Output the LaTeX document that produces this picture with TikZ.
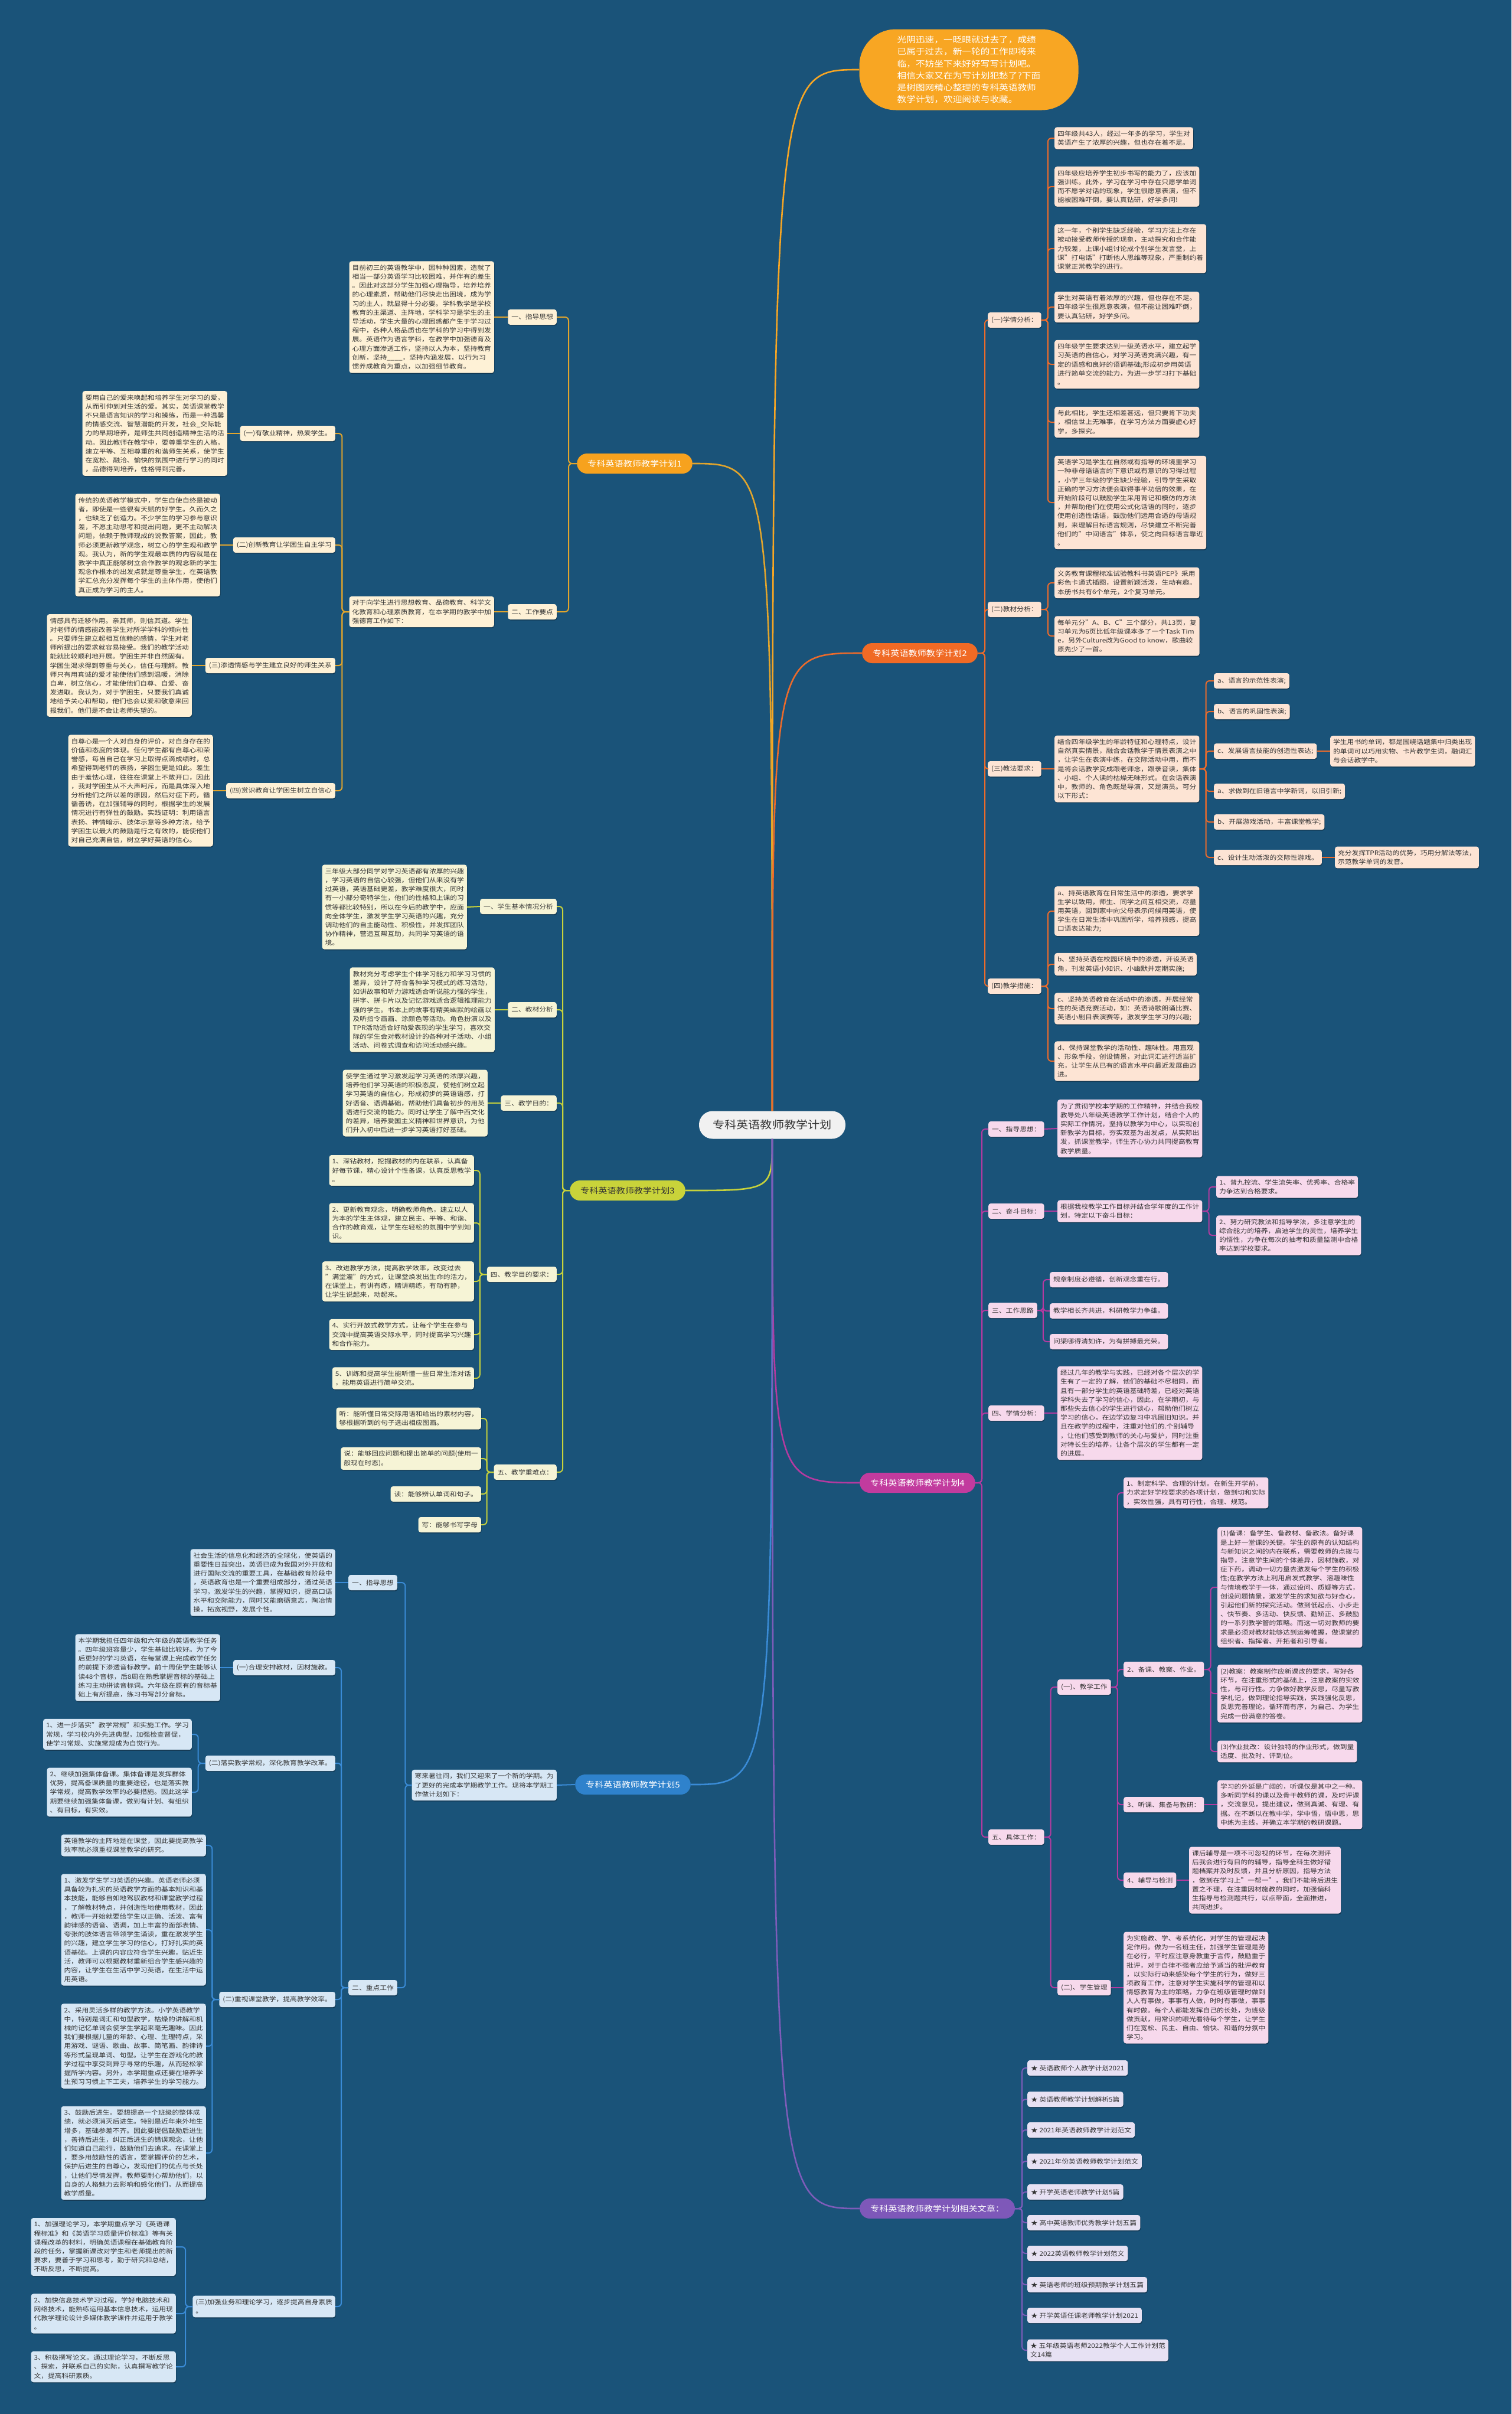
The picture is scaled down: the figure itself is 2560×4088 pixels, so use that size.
\documentclass[tikz,border=0pt]{standalone}
\usepackage{fontspec}
\setmainfont{Noto Sans CJK SC}[FakeStretch=1.12]
\usepackage{xcolor}
\usetikzlibrary{shadows}

\definecolor{bgblue}{HTML}{1A5379}
\definecolor{ink}{HTML}{333333}
\definecolor{titlegray}{HTML}{F1F1F1}
\definecolor{bubble}{HTML}{F8A623}
\definecolor{org1}{HTML}{F7A21E}
\definecolor{line1}{HTML}{E2A52C}
\definecolor{fill1}{HTML}{FEF1D6}
\definecolor{org2}{HTML}{F06A25}
\definecolor{line2}{HTML}{EC6B2B}
\definecolor{fill2}{HTML}{FDE4D4}
\definecolor{org3}{HTML}{C9D33A}
\definecolor{line3}{HTML}{C7D23B}
\definecolor{fill3}{HTML}{F6F4D6}
\definecolor{org4}{HTML}{C23B9E}
\definecolor{line4}{HTML}{B43AA0}
\definecolor{fill4}{HTML}{F7D9EC}
\definecolor{org5}{HTML}{2F82CC}
\definecolor{line5}{HTML}{3A8BD6}
\definecolor{fill5}{HTML}{D7E7F5}
\definecolor{org6}{HTML}{7E58B9}
\definecolor{line6}{HTML}{7D5CB9}
\definecolor{fill6}{HTML}{E7E1F3}

\begin{document}
\begin{tikzpicture}[x=1pt,y=-1pt,
  tbox/.style={rounded corners=4pt, inner xsep=5pt, inner ysep=6pt, align=left, text=ink,
    font=\fontsize{10.5}{15.2}\selectfont,
    drop shadow={shadow xshift=0.8pt,shadow yshift=-1.6pt,opacity=0.3,fill=black}},
  tagbox/.style={tbox, minimum height=26pt, inner xsep=6pt},
  pillbox/.style={rounded corners=17pt, minimum height=34pt, inner xsep=18pt,
    font=\fontsize{13.5}{16}\selectfont, text=white},
  link/.style={line width=2pt, rounded corners=6pt},
  mainlink/.style={line width=2.6pt}]

  \fill[bgblue] (0,0) rectangle (2560,4088);
  \useasboundingbox (0,0) rectangle (2560,4088);

  % centre and intro
  \node[fill=titlegray, text=ink, rounded corners=23pt, minimum width=248pt, minimum height=47pt,
    font=\fontsize{18}{22}\selectfont] (cen) at (1308,1905) {专科英语教师教学计划};
  \node[fill=bubble, text=white, rounded corners=62pt, minimum width=371pt, minimum height=137pt,
    align=left, font=\fontsize{14}{20.2}\selectfont] (intro) at (1641,118)
    {光阴迅速，一眨眼就过去了，成绩\\已属于过去，新一轮的工作即将来\\临，不妨坐下来好好写写计划吧。\\相信大家又在为写计划犯愁了?下面\\是树图网精心整理的专科英语教师\\教学计划，欢迎阅读与收藏。};

  % plan 1
  \node[pillbox, fill=org1, anchor=east] (p1) at (1173,785) {专科英语教师教学计划1};
  \node[tagbox, fill=fill1, anchor=east] (c11) at (943,537) {一、指导思想};
  \node[tbox, fill=fill1, anchor=east] (t11) at (837,537)
    {目前初三的英语教学中，因种种因素，造就了\\相当一部分英语学习比较困难，并伴有的差生\\。因此对这部分学生加强心理指导，培养培养\\的心理素质，帮助他们尽快走出困境，成为学\\习的主人，就显得十分必要。学科教学是学校\\教育的主渠道、主阵地，学科学习是学生的主\\导活动，学生大量的心理困惑都产生于学习过\\程中，各种人格品质也在学科的学习中得到发\\展。英语作为语言学科，在教学中加强德育及\\心理方面渗透工作，坚持以人为本，坚持教育\\创新，坚持\_\_\_\_，坚持内涵发展，以行为习\\惯养成教育为重点，以加强细节教育。};
  \node[tagbox, fill=fill1, anchor=east] (c12) at (943,1036) {二、工作要点};
  \node[tbox, fill=fill1, anchor=east] (t12) at (837,1036)
    {对于向学生进行思想教育、品德教育、科学文\\化教育和心理素质教育，在本学期的教学中加\\强德育工作如下：};
  \node[tagbox, fill=fill1, anchor=east] (d1) at (568,734) {(一)有敬业精神，热爱学生。};
  \node[tbox, fill=fill1, anchor=east] (e1) at (385,734)
    {要用自己的爱来唤起和培养学生对学习的爱，\\从而引伸到对生活的爱。其实，英语课堂教学\\不只是语言知识的学习和操练，而是一种温馨\\的情感交流、智慧潜能的开发，社会\_交际能\\力的早期培养，是师生共同创造精神生活的活\\动。因此教师在教学中，要尊重学生的人格，\\建立平等、互相尊重的和谐师生关系，使学生\\在宽松、融洽、愉快的氛围中进行学习的同时\\，品德得到培养，性格得到完善。};
  \node[tagbox, fill=fill1, anchor=east] (d2) at (568,923) {(二)创新教育让学困生自主学习};
  \node[tbox, fill=fill1, anchor=east] (e2) at (373,923)
    {传统的英语教学模式中，学生自使自终是被动\\者，即使是一些很有天赋的好学生。久而久之\\，也缺乏了创造力。不少学生的学习参与意识\\差，不愿主动思考和提出问题，更不主动解决\\问题，依赖于教师现成的说教答案，因此，教\\师必须更新教学观念，树立心的学生观和教学\\观。我认为，新的学生观最本质的内容就是在\\教学中真正能够树立合作教学的观念新的学生\\观念作根本的出发点就是尊重学生，在英语教\\学汇总充分发挥每个学生的主体作用，使他们\\真正成为学习的主人。};
  \node[tagbox, fill=fill1, anchor=east] (d3) at (568,1127) {(三)渗透情感与学生建立良好的师生关系};
  \node[tbox, fill=fill1, anchor=east] (e3) at (325,1127)
    {情感具有迁移作用。亲其师，则信其道。学生\\对老师的情感能改善学生对所学学科的倾向性\\。只要师生建立起相互信赖的感情，学生对老\\师所提出的要求就容易接受。我们的教学活动\\能就比较顺利地开展。学困生并非自然固有。\\学困生渴求得到尊重与关心，信任与理解。教\\师只有用真诚的爱才能使他们感到温暖，消除\\自卑，树立信心，才能使他们自尊、自爱、奋\\发进取。我认为，对于学困生，只要我们真诚\\地给予关心和帮助，他们也会以爱和敬意来回\\报我们。他们是不会让老师失望的。};
  \node[tagbox, fill=fill1, anchor=east] (d4) at (568,1339) {(四)赏识教育让学困生树立自信心};
  \node[tbox, fill=fill1, anchor=east] (e4) at (361,1339)
    {自尊心是一个人对自身的评价，对自身存在的\\价值和态度的体现。任何学生都有自尊心和荣\\誉感，每当自己在学习上取得点滴成绩时，总\\希望得到老师的表扬，学困生更是如此。差生\\由于羞怯心理，往往在课堂上不敢开口，因此\\，我对学困生从不大声呵斥，而是具体深入地\\分析他们之所以差的原因，然后对症下药，循\\循善诱，在加强辅导的同时，根据学生的发展\\情况进行有弹性的鼓励。实践证明：利用语言\\表扬、神情暗示、肢体示意等多种方法，给予\\学困生以最大的鼓励是行之有效的，能使他们\\对自己充满自信，树立学好英语的信心。};

  % plan 2
  \node[pillbox, fill=org2, anchor=west] (p2) at (1460,1106) {专科英语教师教学计划2};
  \node[tagbox, fill=fill2, anchor=west] (q1) at (1673,542) {(一)学情分析：};
  \node[tagbox, fill=fill2, anchor=west] (q2) at (1673,1032) {(二)教材分析：};
  \node[tagbox, fill=fill2, anchor=west] (q3) at (1673,1302) {(三)教法要求：};
  \node[tagbox, fill=fill2, anchor=west] (q4) at (1673,1670) {(四)教学措施：};
  \node[tbox, fill=fill2, anchor=west] (r1) at (1786,234)
    {四年级共43人，经过一年多的学习，学生对\\英语产生了浓厚的兴趣，但也存在着不足。};
  \node[tbox, fill=fill2, anchor=west] (r2) at (1786,316)
    {四年级应培养学生初步书写的能力了，应该加\\强训练。此外，学习在学习中存在只愿学单词\\而不愿学对话的现象，学生很愿意表演，但不\\能被困难吓倒，要认真钻研，好学多问!};
  \node[tbox, fill=fill2, anchor=west] (r3) at (1786,421)
    {这一年，个别学生缺乏经验，学习方法上存在\\被动接受教师传授的现象，主动探究和合作能\\力较差，上课小组讨论成个别学生发言堂，上\\课"打电话"打断他人思维等现象，严重制约着\\课堂正常教学的进行。};
  \node[tbox, fill=fill2, anchor=west] (r4) at (1786,520)
    {学生对英语有着浓厚的兴趣，但也存在不足。\\四年级学生很愿意表演，但不能让困难吓倒，\\要认真钻研，好学多问。};
  \node[tbox, fill=fill2, anchor=west] (r5) at (1786,617)
    {四年级学生要求达到一级英语水平，建立起学\\习英语的自信心，对学习英语充满兴趣，有一\\定的语感和良好的语调基础;形成初步用英语\\进行简单交流的能力，为进一步学习打下基础\\。};
  \node[tbox, fill=fill2, anchor=west] (r6) at (1786,715)
    {与此相比，学生还相差甚远，但只要肯下功夫\\，相信世上无难事，在学习方法方面要虚心好\\学，多探究。};
  \node[tbox, fill=fill2, anchor=west] (r7) at (1786,851)
    {英语学习是学生在自然或有指导的环境里学习\\一种非母语语言的下意识或有意识的习得过程\\，小学三年级的学生缺少经验，引导学生采取\\正确的学习方法便会取得事半功倍的效果，在\\开始阶段可以鼓励学生采用背记和模仿的方法\\，并帮助他们在使用公式化话语的同时，逐步\\使用创造性话语，鼓励他们运用合适的母语规\\则，来理解目标语言规则，尽快建立不断完善\\他们的"中间语言"体系，使之向目标语言靠近\\。};
  \node[tbox, fill=fill2, anchor=west] (r8) at (1786,987)
    {义务教育课程标准试验教科书英语PEP》采用\\彩色卡通式插图，设置新颖活泼，生动有趣。\\本册书共有6个单元，2个复习单元。};
  \node[tbox, fill=fill2, anchor=west] (r9) at (1786,1077)
    {每单元分"A、B、C"三个部分，共13页，复\\习单元为6页比低年级课本多了一个Task Tim\\e，另外Culture改为Good to know，歌曲较\\原先少了一首。};
  \node[tbox, fill=fill2, anchor=west] (s1) at (1786,1302)
    {结合四年级学生的年龄特征和心理特点，设计\\自然真实情景，融合会话教学于情景表演之中\\，让学生在表演中练，在交际活动中用，而不\\是将会话教学变成跟老师念，跟录音读，集体\\、小组、个人读的枯燥无味形式。在会话表演\\中，教师的、角色既是导演，又是演员。可分\\以下形式：};
  \node[tagbox, fill=fill2, anchor=west] (u1) at (2056,1153) {a、语言的示范性表演;};
  \node[tagbox, fill=fill2, anchor=west] (u2) at (2056,1205) {b、语言的巩固性表演;};
  \node[tagbox, fill=fill2, anchor=west] (u3) at (2056,1272) {c、发展语言技能的创造性表达;};
  \node[tagbox, fill=fill2, anchor=west] (u4) at (2056,1340) {a、求做到在旧语言中学新词，以旧引新;};
  \node[tagbox, fill=fill2, anchor=west] (u5) at (2056,1392) {b、开展游戏活动，丰富课堂教学;};
  \node[tagbox, fill=fill2, anchor=west] (u6) at (2056,1452) {c、设计生动活泼的交际性游戏。};
  \node[tbox, fill=fill2, anchor=west] (v1) at (2253,1272)
    {学生用书的单词，都是围绕话题集中归类出现\\的单词可以巧用实物、卡片教学生词，融词汇\\与会话教学中。};
  \node[tbox, fill=fill2, anchor=west] (v2) at (2261,1452)
    {充分发挥TPR活动的优势，巧用分解法等法，\\示范教学单词的发音。};
  \node[tbox, fill=fill2, anchor=west] (w1) at (1786,1543)
    {a、持英语教育在日常生活中的渗透，要求学\\生学以致用，师生、同学之间互相交流，尽量\\用英语，回到家中向父母表示问候用英语，使\\学生在日常生活中巩固所学，培养预感，提高\\口语表达能力;};
  \node[tbox, fill=fill2, anchor=west] (w2) at (1786,1633)
    {b、坚持英语在校园环境中的渗透，开设英语\\角，刊发英语小知识、小幽默并定期实施;};
  \node[tbox, fill=fill2, anchor=west] (w3) at (1786,1708)
    {c、坚持英语教育在活动中的渗透，开展经常\\性的英语竞赛活动，如：英语诗歌朗诵比赛、\\英语小剧目表演赛等，激发学生学习的兴趣;};
  \node[tbox, fill=fill2, anchor=west] (w4) at (1786,1797)
    {d、保持课堂教学的活动性、趣味性。用直观\\、形象手段，创设情景，对此词汇进行适当扩\\充，让学生从已有的语言水平向最近发展曲迈\\进。};

  % plan 3
  \node[pillbox, fill=org3, text=ink, anchor=east] (p3) at (1161,2016) {专科英语教师教学计划3};
  \node[tagbox, fill=fill3, anchor=east] (k1) at (943,1535) {一、学生基本情况分析};
  \node[tbox, fill=fill3, anchor=east] (kt1) at (791,1536)
    {三年级大部分同学对学习英语都有浓厚的兴趣\\，学习英语的自信心较强，但他们从来没有学\\过英语，英语基础更差，教学难度很大，同时\\有一小部分奇特学生，他们的性格和上课的习\\惯等都比较特别，所以在今后的教学中，应面\\向全体学生，激发学生学习英语的兴趣，充分\\调动他们的自主能动性、积极性，并发挥团队\\协作精神，营造互帮互助，共同学习英语的语\\境。};
  \node[tagbox, fill=fill3, anchor=east] (k2) at (943,1710) {二、教材分析};
  \node[tbox, fill=fill3, anchor=east] (kt2) at (838,1710)
    {教材充分考虑学生个体学习能力和学习习惯的\\差异，设计了符合各种学习模式的练习活动，\\如讲故事和听力游戏适合听说能力强的学生，\\拼字、拼卡片以及记忆游戏适合逻辑推理能力\\强的学生。书本上的故事有精美幽默的绘画以\\及听指令画画、涂颜色等活动。角色扮演以及\\TPR活动适合好动爱表现的学生学习，喜欢交\\际的学生会对教材设计的各种对子活动、小组\\活动、问卷式调查和访问活动感兴趣。};
  \node[tagbox, fill=fill3, anchor=east] (k3) at (943,1868) {三、教学目的：};
  \node[tbox, fill=fill3, anchor=east] (kt3) at (826,1868)
    {使学生通过学习激发起学习英语的浓厚兴趣，\\培养他们学习英语的积极态度，使他们树立起\\学习英语的自信心，形成初步的英语语感，打\\好语音、语调基础，帮助他们具备初步的用英\\语进行交流的能力。同时让学生了解中西文化\\的差异，培养爱国主义精神和世界意识，为他\\们升入初中后进一步学习英语打好基础。};
  \node[tagbox, fill=fill3, anchor=east] (k4) at (943,2158) {四、教学目的要求：};
  \node[tbox, fill=fill3, anchor=east] (m1) at (803,1982)
    {1、深钻教材，挖掘教材的内在联系，认真备\\好每节课，精心设计个性备课，认真反思教学\\。};
  \node[tbox, fill=fill3, anchor=east] (m2) at (803,2071)
    {2、更新教育观念，明确教师角色，建立以人\\为本的学生主体观，建立民主、平等、和谐、\\合作的教育观，让学生在轻松的氛围中学到知\\识。};
  \node[tbox, fill=fill3, anchor=east] (m3) at (803,2170)
    {3、改进教学方法，提高教学效率，改变过去\\"满堂灌"的方式，让课堂焕发出生命的活力，\\在课堂上，有讲有练，精讲精练，有动有静，\\让学生说起来，动起来。};
  \node[tbox, fill=fill3, anchor=east] (m4) at (803,2260)
    {4、实行开放式教学方式，让每个学生在参与\\交流中提高英语交际水平，同时提高学习兴趣\\和合作能力。};
  \node[tbox, fill=fill3, anchor=east] (m5) at (803,2334)
    {5、训练和提高学生能听懂一些日常生活对话\\，能用英语进行简单交流。};
  \node[tagbox, fill=fill3, anchor=east] (k5) at (943,2493) {五、教学重难点：};
  \node[tbox, fill=fill3, anchor=east] (n1) at (815,2402)
    {听：能听懂日常交际用语和给出的素材内容，\\够根据听到的句子选出相应图画。};
  \node[tbox, fill=fill3, anchor=east] (n2) at (815,2470)
    {说：能够回应问题和提出简单的问题(使用一\\般现在时态)。};
  \node[tagbox, fill=fill3, anchor=east] (n3) at (815,2530) {读：能够辨认单词和句子。};
  \node[tagbox, fill=fill3, anchor=east] (n4) at (815,2582) {写：能够书写字母};

  % plan 4
  \node[pillbox, fill=org4, anchor=west] (p4) at (1456,2511) {专科英语教师教学计划4};
  \node[tagbox, fill=fill4, anchor=west] (g1) at (1674,1912) {一、指导思想：};
  \node[tbox, fill=fill4, anchor=west] (gt1) at (1791,1911)
    {为了贯彻学校本学期的工作精神，并结合我校\\教导处八年级英语教学工作计划，结合个人的\\实际工作情况，坚持以教学为中心，以实现创\\新教学为目标，夯实双基为出发点，从实际出\\发，抓课堂教学，师生齐心协力共同提高教育\\教学质量。};
  \node[tagbox, fill=fill4, anchor=west] (g2) at (1674,2051) {二、奋斗目标：};
  \node[tbox, fill=fill4, anchor=west] (gt2) at (1791,2051)
    {根据我校教学工作目标并结合学年度的工作计\\划，特定以下奋斗目标：};
  \node[tbox, fill=fill4, anchor=west] (gc1) at (2060,2010)
    {1、普九控流、学生流失率、优秀率、合格率\\力争达到合格要求。};
  \node[tbox, fill=fill4, anchor=west] (gc2) at (2060,2092)
    {2、努力研究教法和指导学法，多注意学生的\\综合能力的培养，启迪学生的灵性，培养学生\\的悟性，力争在每次的抽考和质量监测中合格\\率达到学校要求。};
  \node[tagbox, fill=fill4, anchor=west] (g3) at (1674,2219) {三、工作思路};
  \node[tagbox, fill=fill4, anchor=west] (gk1) at (1778,2167) {规章制度必遵循，创新观念重在行。};
  \node[tagbox, fill=fill4, anchor=west] (gk2) at (1778,2220) {教学相长齐共进，科研教学力争雄。};
  \node[tagbox, fill=fill4, anchor=west] (gk3) at (1778,2272) {问渠哪得清如许，为有拼搏最光荣。};
  \node[tagbox, fill=fill4, anchor=west] (g4) at (1674,2393) {四、学情分析：};
  \node[tbox, fill=fill4, anchor=west] (gt4) at (1791,2393)
    {经过几年的教学与实践，已经对各个层次的学\\生有了一定的了解，他们的基础不尽相同，而\\且有一部分学生的英语基础特差，已经对英语\\学科失去了学习的信心，因此，在学期初，与\\那些失去信心的学生进行谈心，帮助他们树立\\学习的信心，在边学边复习中巩固旧知识。并\\且在教学的过程中，注重对他们的.个别辅导\\，让他们感受到教师的关心与爱护，同时注重\\对特长生的培养，让各个层次的学生都有一定\\的进展。};
  \node[tagbox, fill=fill4, anchor=west] (g5) at (1674,3111) {五、具体工作：};
  \node[tagbox, fill=fill4, anchor=west] (h1) at (1791,2857) {(一)、教学工作};
  \node[tagbox, fill=fill4, anchor=west] (h2) at (1791,3366) {(二)、学生管理};
  \node[tbox, fill=fill4, anchor=west] (hh1) at (1903,2528)
    {1、制定科学、合理的计划。在新生开学前，\\力求定好学校要求的各项计划，做到切和实际\\，实效性强，具有可行性，合理、规范。};
  \node[tagbox, fill=fill4, anchor=west] (hh2) at (1903,2827) {2、备课、教案、作业。};
  \node[tagbox, fill=fill4, anchor=west] (hh3) at (1903,3056) {3、听课、集备与教研：};
  \node[tagbox, fill=fill4, anchor=west] (hh4) at (1903,3184) {4、辅导与检测};
  \node[tbox, fill=fill4, anchor=west] (hx1) at (2062,2688)
    {(1)备课：备学生、备教材、备教法。备好课\\是上好一堂课的关键。学生的原有的认知结构\\与新知识之间的内在联系，需要教师的点拨与\\指导，注意学生间的个体差异，因材施教，对\\症下药，调动一切力量去激发每个学生的积极\\性;在教学方法上利用启发式教学、溶趣味性\\与情境教学于一体，通过设问、质疑等方式，\\创设问题情景，激发学生的求知欲与好奇心，\\引起他们新的探究活动。做到低起点、小步走\\、快节奏、多活动、快反馈、勤矫正、多鼓励\\的一系列教学管的策略。而这一切对教师的要\\求是必须对教材能够达到运筹帷握，做课堂的\\组织者、指挥者、开拓者和引导者。};
  \node[tbox, fill=fill4, anchor=west] (hx2) at (2062,2868)
    {(2)教案：教案制作应新课改的要求，写好各\\环节，在注重形式的基础上，注意教案的实效\\性，与可行性。力争做好教学反思，尽量写教\\学札记，做到理论指导实践，实践强化反思，\\反思完善理论，循环而有序，为自己、为学生\\完成一份满意的答卷。};
  \node[tbox, fill=fill4, anchor=west] (hx3) at (2062,2966)
    {(3)作业批改：设计独特的作业形式，做到量\\适度、批及时、评到位。};
  \node[tbox, fill=fill4, anchor=west] (hy) at (2062,3056)
    {学习的外延是广阔的，听课仅是其中之一种。\\多听同学科的课以及骨干教师的课，及时评课\\，交流意见，提出建议，做到真诚、有理、有\\据。在不断以在教中学，学中悟，悟中思，思\\中练为主线，并确立本学期的教研课题。};
  \node[tbox, fill=fill4, anchor=west] (hz) at (2014,3184)
    {课后辅导是一项不可忽视的环节，在每次测评\\后我会进行有目的的辅导，指导全科生做好错\\题档案并及时反馈，并且分析原因，指导方法\\，做到在学习上"一帮一"，我们不能将后进生\\置之不理，在注重因材施教的同时，加强偏科\\生指导与检测题共行，以点带面，全面推进，\\共同进步。};
  \node[tbox, fill=fill4, anchor=west] (hm) at (1903,3366)
    {为实施教、学、考系统化，对学生的管理起决\\定作用。做为一名班主任，加强学生管理是势\\在必行，平时应注意身教重于言传，鼓励重于\\批评，对于自律不强者应给予适当的批评教育\\，以实际行动来感染每个学生的行为，做好三\\项教育工作，注意对学生实施科学的管理和以\\情感教育为主的策略，力争在班级管理时做到\\人人有事做，事事有人做，时时有事做，事事\\有时做。每个人都能发挥自己的长处，为班级\\做贡献，用常识的眼光看待每个学生，让学生\\们在宽松、民主、自由、愉快、和谐的分氛中\\学习。};

  % plan 5
  \node[pillbox, fill=org5, anchor=east] (p5) at (1170,3022) {专科英语教师教学计划5};
  \node[tbox, fill=fill5, anchor=east] (ptx) at (943,3023)
    {寒来暑往间，我们又迎来了一个新的学期。为\\了更好的完成本学期教学工作。现将本学期工\\作做计划如下：};
  \node[tagbox, fill=fill5, anchor=east] (f1) at (673,2680) {一、指导思想};
  \node[tbox, fill=fill5, anchor=east] (ft1) at (568,2680)
    {社会生活的信息化和经济的全球化，使英语的\\重要性日益突出，英语已成为我国对外开放和\\进行国际交流的重要工具，在基础教育阶段中\\，英语教育也是一个重要组成部分，通过英语\\学习，激发学生的兴趣，掌握知识，提高口语\\水平和交际能力，同时又能磨砺意志，陶冶情\\操，拓宽视野，发展个性。};
  \node[tagbox, fill=fill5, anchor=east] (f2) at (673,3366) {二、重点工作};
  \node[tagbox, fill=fill5, anchor=east] (fa) at (568,2824) {(一)合理安排教材，因材施教。};
  \node[tbox, fill=fill5, anchor=east] (fat) at (373,2824)
    {本学期我担任四年级和六年级的英语教学任务\\。四年级班容量少，学生基础比较好。为了今\\后更好的学习英语，在每堂课上完成教学任务\\的前提下渗透音标教学。前十周使学生能够认\\读48个音标，后8周在熟悉掌握音标的基础上\\练习主动拼读音标词。六年级在原有的音标基\\础上有所提高，练习书写部分音标。};
  \node[tagbox, fill=fill5, anchor=east] (fb) at (568,2986) {(二)落实教学常规，深化教育教学改革。};
  \node[tbox, fill=fill5, anchor=east] (fb1) at (325,2937)
    {1、进一步落实"教学常规"和实施工作。学习\\常规，学习校内外先进典型，加强检查督促，\\使学习常规、实施常规成为自觉行为。};
  \node[tbox, fill=fill5, anchor=east] (fb2) at (325,3035)
    {2、继续加强集体备课。集体备课是发挥群体\\优势，提高备课质量的重要途径，也是落实教\\学常规，提高教学效率的必要措施。因此这学\\期要继续加强集体备课，做到有计划、有组织\\、有目标，有实效。};
  \node[tagbox, fill=fill5, anchor=east] (fc) at (568,3386) {(二)重视课堂教学，提高教学效率。};
  \node[tbox, fill=fill5, anchor=east] (fc1) at (349,3125)
    {英语教学的主阵地是在课堂，因此要提高教学\\效率就必须重视课堂教学的研究。};
  \node[tbox, fill=fill5, anchor=east] (fc2) at (349,3268)
    {1、激发学生学习英语的兴趣。英语老师必须\\具备较为扎实的英语教学方面的基本知识和基\\本技能，能够自如地驾驭教材和课堂教学过程\\，了解教材特点，并创造性地使用教材，因此\\，教师一开始就要给学生以正确、活泼、富有\\韵律感的语音、语调，加上丰富的面部表情、\\夸张的肢体语言带领学生诵读，重在激发学生\\的兴趣，建立学生学习的信心，打好扎实的英\\语基础。上课的内容应符合学生兴趣，贴近生\\活，教师可以根据教材重新组合学生感兴趣的\\内容，让学生在生活中学习英语，在生活中运\\用英语。};
  \node[tbox, fill=fill5, anchor=east] (fc3) at (349,3465)
    {2、采用灵活多样的教学方法。小学英语教学\\中，特别是词汇和句型教学，枯燥的讲解和机\\械的记忆单词会使学生学起来毫无趣味。因此\\我们要根据儿童的年龄、心理、生理特点，采\\用游戏、谜语、歌曲、故事、简笔画、韵律诗\\等形式呈现单词、句型。让学生在游戏化的教\\学过程中享受到异乎寻常的乐趣，从而轻松掌\\握所学内容。另外，本学期重点还要在培养学\\生预习习惯上下工夫，培养学生的学习能力。};
  \node[tbox, fill=fill5, anchor=east] (fc4) at (349,3646)
    {3、鼓励后进生。要想提高一个班级的整体成\\绩，就必须消灭后进生。特别是近年来外地生\\增多，基础参差不齐。因此要提倡鼓励后进生\\，善待后进生，纠正后进生的错误观念，让他\\们知道自己能行，鼓励他们去追求。在课堂上\\，要多用鼓励性的语言，要掌握评价的艺术，\\保护后进生的自尊心，发现他们的优点与长处\\，让他们尽情发挥。教师要耐心帮助他们，以\\自身的人格魅力去影响和感化他们，从而提高\\教学质量。};
  \node[tbox, fill=fill5, anchor=east] (fd) at (568,3906)
    {(三)加强业务和理论学习，逐步提高自身素质\\。};
  \node[tbox, fill=fill5, anchor=east] (fd1) at (298,3805)
    {1、加强理论学习，本学期重点学习《英语课\\程标准》和《英语学习质量评价标准》等有关\\课程改革的材料，明确英语课程在基础教育阶\\段的任务，掌握新课改对学生和老师提出的新\\要求，要善于学习和思考，勤于研究和总结，\\不断反思，不断提高。};
  \node[tbox, fill=fill5, anchor=east] (fd2) at (298,3918)
    {2、加快信息技术学习过程，学好电脑技术和\\网络技术，能熟练运用基本信息技术，运用现\\代教学理论设计多媒体教学课件并运用于教学\\。};
  \node[tbox, fill=fill5, anchor=east] (fd3) at (298,4008)
    {3、积极撰写论文。通过理论学习，不断反思\\、探索，并联系自己的实际，认真撰写教学论\\文，提高科研素质。};

  % related articles
  \node[pillbox, fill=org6, anchor=west] (pr) at (1456,3740) {专科英语教师教学计划相关文章：};
  \node[tagbox, fill=fill6, anchor=west] (a1) at (1740,3502) {★ 英语教师个人教学计划2021};
  \node[tagbox, fill=fill6, anchor=west] (a2) at (1740,3555) {★ 英语教师教学计划解析5篇};
  \node[tagbox, fill=fill6, anchor=west] (a3) at (1740,3607) {★ 2021年英语教师教学计划范文};
  \node[tagbox, fill=fill6, anchor=west] (a4) at (1740,3660) {★ 2021年份英语教师教学计划范文};
  \node[tagbox, fill=fill6, anchor=west] (a5) at (1740,3712) {★ 开学英语老师教学计划5篇};
  \node[tagbox, fill=fill6, anchor=west] (a6) at (1740,3764) {★ 高中英语教师优秀教学计划五篇};
  \node[tagbox, fill=fill6, anchor=west] (a7) at (1740,3816) {★ 2022英语教师教学计划范文};
  \node[tagbox, fill=fill6, anchor=west] (a8) at (1740,3869) {★ 英语老师的班级预期教学计划五篇};
  \node[tagbox, fill=fill6, anchor=west] (a9) at (1740,3921) {★ 开学英语任课老师教学计划2021};
  \node[tbox, fill=fill6, anchor=west] (a10) at (1740,3980) {★ 五年级英语老师2022教学个人工作计划范\\文14篇};

  % centre connectors
  \draw[mainlink, bubble] (cen.north) .. controls (cen.north |- intro.west) .. (intro.west);
  \draw[mainlink, line1] (cen.north) .. controls (cen.north |- p1.east) .. (p1.east);
  \draw[mainlink, line2] (cen.north) .. controls (cen.north |- p2.west) .. (p2.west);
  \draw[mainlink, line3] (cen.south) .. controls (cen.south |- p3.east) .. (p3.east);
  \draw[mainlink, line4] (cen.south) .. controls (cen.south |- p4.west) .. (p4.west);
  \draw[mainlink, line5] (cen.south) .. controls (cen.south |- p5.east) .. (p5.east);
  \draw[mainlink, line6] (cen.south) .. controls (cen.south |- pr.west) .. (pr.west);

  % plan 1 links
  \foreach \c in {c11,c12} \draw[link, line1] (p1.west) -- ++(-14,0) |- (\c.east);
  \draw[link, line1] (c11.west) -- (t11.east);
  \draw[link, line1] (c12.west) -- (t12.east);
  \foreach \c in {d1,d2,d3,d4} \draw[link, line1] (t12.west) -- ++(-12,0) |- (\c.east);
  \foreach \a/\b in {d1/e1,d2/e2,d3/e3,d4/e4} \draw[link, line1] (\a.west) -- (\b.east);

  % plan 2 links
  \foreach \c in {q1,q2,q3,q4} \draw[link, line2] (p2.east) -- ++(12,0) |- (\c.west);
  \foreach \c in {r1,r2,r3,r4,r5,r6,r7} \draw[link, line2] (q1.east) -- ++(11,0) |- (\c.west);
  \foreach \c in {r8,r9} \draw[link, line2] (q2.east) -- ++(11,0) |- (\c.west);
  \draw[link, line2] (q3.east) -- (s1.west);
  \foreach \c in {u1,u2,u3,u4,u5,u6} \draw[link, line2] (s1.east) -- ++(11,0) |- (\c.west);
  \draw[link, line2] (u3.east) -- (v1.west);
  \draw[link, line2] (u6.east) -- (v2.west);
  \foreach \c in {w1,w2,w3,w4} \draw[link, line2] (q4.east) -- ++(11,0) |- (\c.west);

  % plan 3 links
  \foreach \c in {k1,k2,k3,k4,k5} \draw[link, line3] (p3.west) -- ++(-12,0) |- (\c.east);
  \foreach \a/\b in {k1/kt1,k2/kt2,k3/kt3} \draw[link, line3] (\a.west) -- (\b.east);
  \foreach \c in {m1,m2,m3,m4,m5} \draw[link, line3] (k4.west) -- ++(-12,0) |- (\c.east);
  \foreach \c in {n1,n2,n3,n4} \draw[link, line3] (k5.west) -- ++(-12,0) |- (\c.east);

  % plan 4 links
  \foreach \c in {g1,g2,g3,g4,g5} \draw[link, line4] (p4.east) -- ++(11,0) |- (\c.west);
  \foreach \a/\b in {g1/gt1,g2/gt2,g4/gt4} \draw[link, line4] (\a.east) -- (\b.west);
  \foreach \c in {gc1,gc2} \draw[link, line4] (gt2.east) -- ++(11,0) |- (\c.west);
  \foreach \c in {gk1,gk2,gk3} \draw[link, line4] (g3.east) -- ++(10,0) |- (\c.west);
  \foreach \c in {h1,h2} \draw[link, line4] (g5.east) -- ++(11,0) |- (\c.west);
  \foreach \c in {hh1,hh2,hh3,hh4} \draw[link, line4] (h1.east) -- ++(11,0) |- (\c.west);
  \foreach \c in {hx1,hx2,hx3} \draw[link, line4] (hh2.east) -- ++(11,0) |- (\c.west);
  \draw[link, line4] (hh3.east) -- (hy.west);
  \draw[link, line4] (hh4.east) -- (hz.west);
  \draw[link, line4] (h2.east) -- (hm.west);

  % plan 5 links
  \draw[link, line5] (p5.west) -- (ptx.east);
  \foreach \c in {f1,f2} \draw[link, line5] (ptx.west) -- ++(-11,0) |- (\c.east);
  \draw[link, line5] (f1.west) -- (ft1.east);
  \foreach \c in {fa,fb,fc,fd} \draw[link, line5] (f2.west) -- ++(-12,0) |- (\c.east);
  \draw[link, line5] (fa.west) -- (fat.east);
  \foreach \c in {fb1,fb2} \draw[link, line5] (fb.west) -- ++(-12,0) |- (\c.east);
  \foreach \c in {fc1,fc2,fc3,fc4} \draw[link, line5] (fc.west) -- ++(-12,0) |- (\c.east);
  \foreach \c in {fd1,fd2,fd3} \draw[link, line5] (fd.west) -- ++(-12,0) |- (\c.east);

  % related links
  \foreach \c in {a1,a2,a3,a4,a5,a6,a7,a8,a9,a10} \draw[link, line6] (pr.east) -- ++(12,0) |- (\c.west);
\end{tikzpicture}
\end{document}
